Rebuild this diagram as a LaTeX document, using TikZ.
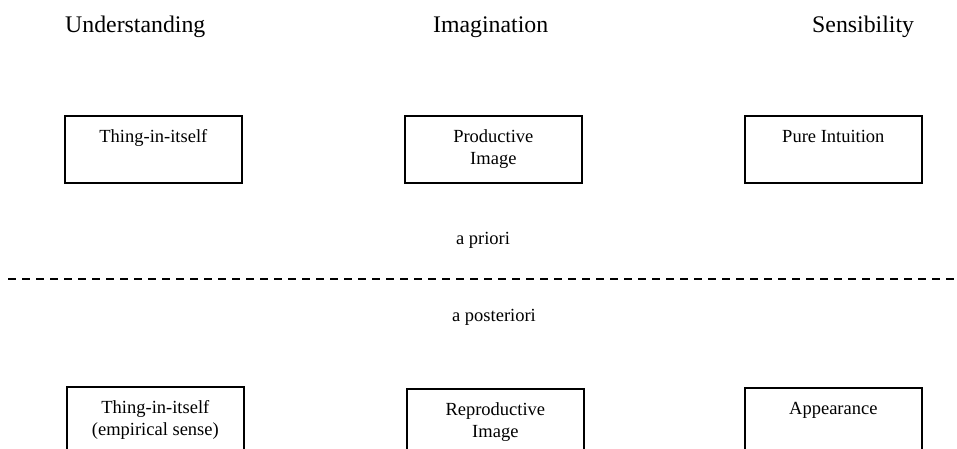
\documentclass[tikz,border=0pt]{standalone}
\usepackage{fontspec}
\setmainfont{Liberation Serif}
\usetikzlibrary{positioning}

\newcommand{\boxtext}[1]{\parbox[t][67pt][t]{170pt}{\centering\rule{0pt}{27pt}#1}}

\begin{document}
\begin{tikzpicture}[x=1pt,y=-1pt,
    every node/.style={font=\fontsize{18.5}{22}\selectfont},
    box/.style={draw, line width=1.7pt, inner sep=0pt, minimum width=177pt, anchor=north west},
    head/.style={font=\fontsize{23.8}{28}\selectfont, anchor=base west, inner sep=0pt},
    divider/.style={line width=1.7pt, dash pattern=on 8pt off 6pt}]
        \useasboundingbox (0,0) rectangle (957,449);

        % Column headings
        \node[head] (und) at (65,33) {Understanding};
        \node[head] (ima) at (433,33) {Imagination};
        \node[head] (sen) at (812,33) {Sensibility};

        % A priori row
        \node[box] (thing) at (64,115) {\boxtext{Thing-in-itself}};
        \node[box] (prod) at (404,115) {\boxtext{Productive\\Image}};
        \node[box] (pure) at (744,115) {\boxtext{Pure Intuition}};

        % Dividing line
        \node (apri) at (483,240) {a priori};
        \coordinate (dl) at (8,279);
        \coordinate (dr) at (957,279);
        \draw[divider] (dl) -- (dr);
        \node (apost) at (494,317) {a posteriori};

        % A posteriori row
        \node[box] (emp) at (66,386) {\boxtext{Thing-in-itself\\(empirical sense)}};
        \node[box] (repr) at (406,388) {\boxtext{Reproductive\\Image}};
        \node[box] (appe) at (744,387) {\boxtext{Appearance}};
    \end{tikzpicture}
\end{document}
